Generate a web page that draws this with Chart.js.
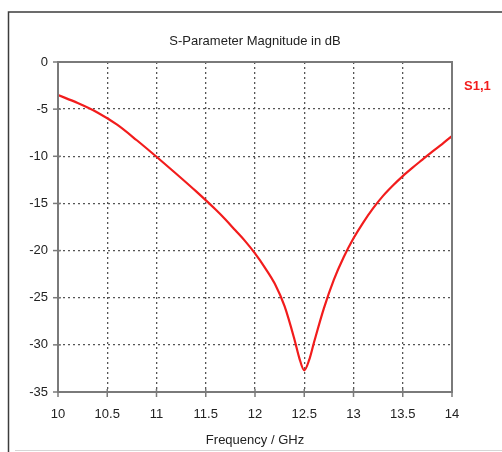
<!DOCTYPE html>
<html>
<head>
<meta charset="utf-8">
<script src="https://cdn.jsdelivr.net/npm/chart.js@4/dist/chart.umd.min.js"></script>
<style>
  html, body { margin: 0; padding: 0; background: #fff; }
  #wrap { width: 502px; height: 452px; }
</style>
</head>
<body>
<div id="wrap"><canvas id="chart" width="502" height="452"></canvas></div>
<script>
// S-parameter sweep
const freqGHz = [10.0, 10.2, 10.4, 10.6, 10.8, 11.0, 11.2, 11.4, 11.6, 11.7, 11.8, 11.9, 12.0, 12.1, 12.2, 12.3, 12.4, 12.45, 12.5,
                 12.55, 12.6, 12.7, 12.8, 12.9, 13.0, 13.1, 13.2, 13.3, 13.4, 13.5, 13.6, 13.7, 13.8, 13.9, 14.0];
const s11dB = [-3.5, -4.35, -5.35, -6.65, -8.3, -10.05, -11.85, -13.7, -15.65, -16.7, -17.85, -19.0, -20.3, -21.8, -23.5, -25.9, -29.4, -31.4, -32.7,
               -31.6, -29.7, -26.1, -23.1, -20.7, -18.7, -17.0, -15.5, -14.2, -13.1, -12.1, -11.2, -10.35, -9.5, -8.7, -7.85];
const seriesLabel = 'S1,1';
const chartTitle = 'S-Parameter Magnitude in dB';
const xTitle = 'Frequency / GHz';

const FONT = '"Liberation Sans", Arial, sans-serif';
const RED = '#f21c1c';

// frame, title, legend text, plot box and tick marks
const decor = {
  id: 'decor',
  afterDraw(chart) {
    const { ctx, chartArea: a, scales } = chart;
    ctx.save();
    // outer window frame
    ctx.strokeStyle = '#3c3c3c';
    ctx.lineWidth = 1.5;
    ctx.beginPath();
    ctx.moveTo(8.5, 452);
    ctx.lineTo(8.5, 12);
    ctx.lineTo(502, 12);
    ctx.stroke();
    ctx.strokeStyle = '#d6d6d6';
    ctx.lineWidth = 1;
    ctx.beginPath();
    ctx.moveTo(15, 450.5);
    ctx.lineTo(502, 450.5);
    ctx.stroke();

    // plot box
    ctx.strokeStyle = '#7a7a7a';
    ctx.lineWidth = 2;
    ctx.strokeRect(a.left, a.top, a.right - a.left, a.bottom - a.top);

    // tick marks
    ctx.lineWidth = 1.5;
    scales.x.ticks.forEach(t => {
      const x = scales.x.getPixelForValue(t.value);
      ctx.beginPath();
      ctx.moveTo(x, a.bottom - 3);
      ctx.lineTo(x, a.bottom + 5);
      ctx.stroke();
    });
    scales.y.ticks.forEach(t => {
      const y = scales.y.getPixelForValue(t.value);
      ctx.beginPath();
      ctx.moveTo(a.left - 5, y);
      ctx.lineTo(a.left + 3, y);
      ctx.stroke();
    });

    // title
    ctx.fillStyle = '#222';
    ctx.font = '13px ' + FONT;
    ctx.textAlign = 'center';
    ctx.textBaseline = 'middle';
    ctx.fillText(chartTitle, (a.left + a.right) / 2, 41);

    // series label
    ctx.fillStyle = RED;
    ctx.font = 'bold 13px ' + FONT;
    ctx.textAlign = 'left';
    ctx.fillText(chart.data.datasets[0].label, 464, 86);
    ctx.restore();
  }
};

new Chart(document.getElementById('chart'), {
  type: 'line',
  data: {
    datasets: [{
      label: seriesLabel,
      data: freqGHz.map((f, i) => ({ x: f, y: s11dB[i] })),
      borderColor: RED,
      borderWidth: 2.2,
      pointRadius: 0,
      cubicInterpolationMode: 'monotone',
      fill: false,
    }],
  },
  options: {
    responsive: false,
    animation: false,
    layout: { padding: { top: 62, right: 50, left: 0, bottom: 0 } },
    plugins: {
      legend: { display: false },
      title: { display: false },
      tooltip: { enabled: false },
    },
    scales: {
      x: {
        type: 'linear',
        min: 10,
        max: 14,
        afterFit: s => { s.height = 60; },
        ticks: {
          stepSize: 0.5,
          color: '#222',
          padding: 15,
          font: { size: 13, family: FONT },
          callback: v => String(+v.toFixed(1)),
        },
        grid: { color: '#555', lineWidth: 1.3, drawTicks: false },
        border: { display: false, dash: [2, 3] },
        title: {
          display: true,
          text: xTitle,
          color: '#222',
          font: { size: 13, family: FONT },
          padding: { top: 4, bottom: 4 },
        },
      },
      y: {
        min: -35,
        max: 0,
        afterFit: s => { s.width = 58; },
        ticks: { stepSize: 5, color: '#222', padding: 10, font: { size: 13, family: FONT } },
        grid: { color: '#555', lineWidth: 1.3, drawTicks: false },
        border: { display: false, dash: [2, 3] },
      },
    },
  },
  plugins: [decor],
});
</script>
</body>
</html>
